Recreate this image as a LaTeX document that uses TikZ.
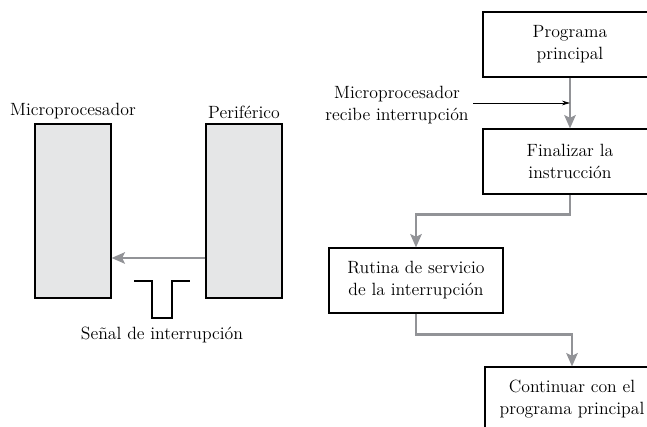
\documentclass[tikz,border=0pt]{standalone}
\usetikzlibrary{arrows.meta,positioning}
\definecolor{gris}{RGB}{146,147,151}
\definecolor{relleno}{RGB}{229,230,231}
\tikzset{
    texto/.style={font=\fontsize{13.3}{16.5}\selectfont, align=center},
    chip/.style={draw, line width=0.8pt, fill=relleno, minimum width=57pt, minimum height=130.5pt},
    caja/.style={draw, line width=0.8pt, texto, minimum width=130.5pt, minimum height=48.75pt},
    flujo/.style={draw=gris, line width=2pt, -{Stealth[length=10pt,width=8.5pt,inset=2pt]}},
    aviso/.style={draw, line width=0.6pt, -{Stealth[length=6pt,width=3.5pt]}},
    pulso/.style={draw, line width=1pt}
}
\begin{document}
\begin{tikzpicture}[x=0.75pt, y=-0.75pt]
    \useasboundingbox (0,0) rectangle (647,427);
    \clip (0,0) rectangle (647,427);

    \node[chip] (micro) at (73,211) {};
    \node[chip] (peri) at (244,211) {};
    \node[texto, above=0pt of micro] (microtxt) {Microprocesador};
    \node[texto, above=0pt of peri] (peritxt) {Periférico};
    \coordinate (linea) at (0,258);
    \draw[flujo] (peri.west |- linea) -- (micro.east |- linea);
    \draw[pulso] (134,281) -- (152,281) -- (152,318) -- (172,318) -- (172,281) -- (190,281);
    \node[texto] (senal) at (162,335) {Señal de interrupción};

    \node[caja] (prog) at (570,44.5) {Programa\\principal};
    \node[caja] (fin) at (570,161.5) {Finalizar la\\instrucción};
    \node[caja] (rutina) at (416,280.5) {Rutina de servicio\\de la interrupción};
    \node[caja] (cont) at (572,399.5) {Continuar con el\\programa principal};
    \node[texto] (recibe) at (397,105) {Microprocesador\\recibe interrupción};

    \draw[flujo] (prog) -- (fin);
    \draw[flujo] (fin.south) -- ++(0,20) -| (rutina.north);
    \draw[flujo] (rutina.south) -- ++(0,21) -| (cont.north);
    \draw[aviso] (recibe.east |- 0,103) -- (prog.south |- 0,103);
\end{tikzpicture}
\end{document}
